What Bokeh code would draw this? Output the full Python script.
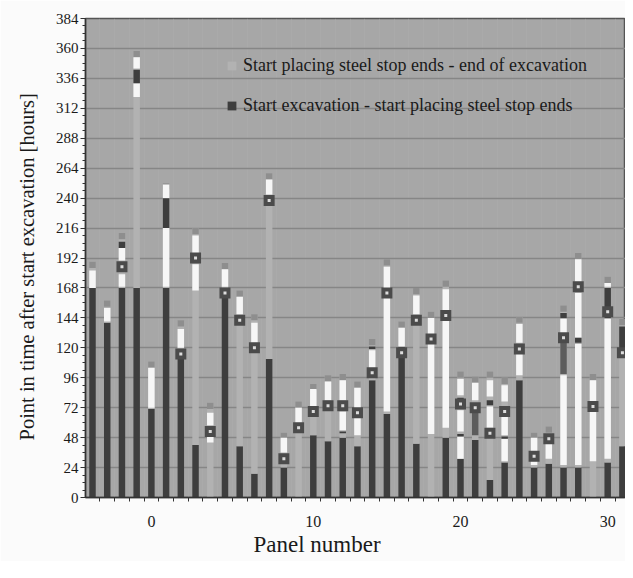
from bokeh.plotting import figure
from bokeh.models import FixedTicker, Legend, LegendItem, Range1d, Title
from bokeh.embed import file_html
from bokeh.resources import INLINE

# ---- data (hours after start of excavation) ----
panel = list(range(-4, 33))
start_steel = [168, 140, 168, 168, 71, 168, 112, 42, 0, 167, 41, 19, 111, 24, 0, 50, 45, 48, 41,
               94, 67, 121, 43, 0, 48, 31, 46, 14, 28, 94, 24, 27, 24, 24, 0, 28, 41]
end_excav = [189, 158, 212, 358, 109, 252, 142, 216, 76, 188, 166, 147, 260, 52, 77, 91, 98, 99, 93,
             127, 191, 141, 168, 149, 174, 101, 97, 101, 96, 145, 52, 57, 154, 196, 99, 177, 143]

white_panel = [-4, -3, -2, -2, -1, -1, 0, 1, 1, 2, 3, 3, 4, 4, 5, 6, 7, 8, 9, 10, 11, 11, 12, 13, 13,
               14, 14, 15, 16, 16, 17, 18, 19, 20, 21, 21, 21, 22, 23, 23, 24, 24, 24, 25, 25, 26, 26,
               27, 28, 28, 29, 29, 29, 30, 30, 31, 31]
white_lo = [168, 141, 169, 190, 321, 344, 72, 169, 240, 120, 166, 196, 44, 58, 169, 147, 124, 243, 36,
            60, 66, 73, 78, 54, 78, 50, 72, 104, 69, 168, 121, 147, 51, 56, 31, 53, 82, 78, 56, 81, 29,
            50, 77, 98, 124, 26, 36, 31, 26, 131, 26, 128, 173, 29, 77, 31, 169]
white_hi = [182, 152, 179, 200, 332, 353, 104, 216, 251, 135, 187, 210, 49, 68, 183, 161, 140, 255, 48,
            72, 68, 87, 93, 69, 94, 64, 88, 118, 160, 185, 136, 162, 144, 167, 49, 70, 95, 92, 73, 94,
            47, 65, 90, 115, 139, 29, 48, 44, 98, 143, 123, 164, 191, 69, 94, 143, 172]

dseg_panel = [-2, -1, 1, 13, 15, 21, 21, 23, 24, 28, 29, 31, 32]
dseg_lo = [200, 332, 216, 51.5, 119, 49, 76, 74, 47, 144, 124, 144, 119]
dseg_hi = [205, 343, 240, 53, 121, 51, 80, 78, 49, 148, 128, 168, 137]

mseg_panel = [22, 28]
mseg_lo = [50, 99]
mseg_hi = [68, 124]

mark_panel = [-2, 2, 3, 4, 5, 6, 7, 8, 9, 10, 11, 12, 13, 14, 15, 16, 17, 18, 19, 20, 21, 22, 23,
              24, 25, 26, 27, 28, 29, 30, 31, 32]
mark_time = [185, 115, 192, 53, 164, 142, 120, 238, 31, 56, 69, 73.5, 73.5, 68, 100, 164, 116, 142,
             127, 146, 75, 72, 51.5, 69, 119, 33, 47, 128, 169, 73, 149, 116]

y_ticks = list(range(0, 385, 24))
x_tick_pos = [0, 11, 21, 31]
x_tick_text = ["0", "10", "20", "30"]

# ---- style ----
BG = "#a7a7a7"
DARK = "#3e3e3e"
LIGHT = "#b2b2b2"
WHITE = "#f6f6f6"
CAP = "#8e8e8e"
SERIF = "Liberation Serif"

p = figure(frame_width=540, frame_height=479, min_border_left=85, min_border_right=0,
           min_border_top=18, min_border_bottom=64, output_backend="svg",
           toolbar_location=None, x_range=Range1d(-4.476, 32.21), y_range=Range1d(0, 384))
p.background_fill_color = BG
p.border_fill_color = "#fbfbfb"
p.outline_line_color = "#555555"
p.outline_line_width = 1.5

W = 0.44
r_dark = p.vbar(x=panel, bottom=0, top=start_steel, width=W, fill_color=DARK, line_color=None)
r_light = p.vbar(x=panel, bottom=start_steel, top=end_excav, width=W, fill_color=LIGHT, line_color=None)
p.vbar(x=panel, bottom=[t - 5 for t in end_excav], top=end_excav, width=W, fill_color=CAP, line_color=None)
p.vbar(x=white_panel, bottom=white_lo, top=white_hi, width=W, fill_color=WHITE, line_color=None)
p.vbar(x=dseg_panel, bottom=dseg_lo, top=dseg_hi, width=W, fill_color=DARK, line_color=None)
p.vbar(x=mseg_panel, bottom=mseg_lo, top=mseg_hi, width=W, fill_color="#5c5c5c", line_color=None)
p.scatter(x=mark_panel, y=mark_time, marker="square", size=11, fill_color="#4b4b4b", line_color=None)
p.scatter(x=mark_panel, y=mark_time, marker="square", size=3, fill_color="#dddddd", line_color=None)

# grid
p.xgrid.ticker = FixedTicker(ticks=[i + 0.5 for i in range(-5, 33)])
p.xgrid.grid_line_color = "#b0b0b0"
p.xgrid.grid_line_alpha = 0.45
p.ygrid.ticker = FixedTicker(ticks=y_ticks)
p.ygrid.grid_line_color = "#868686"
p.ygrid.grid_line_width = 1.6
p.grid.level = "image"

# axes
p.yaxis.ticker = FixedTicker(ticks=y_ticks, minor_ticks=list(range(0, 385, 6)))
p.xaxis.ticker = FixedTicker(ticks=x_tick_pos, minor_ticks=[i + 0.5 for i in range(-5, 33)])
p.xaxis.major_label_overrides = dict(zip(x_tick_pos, x_tick_text))
for ax in (p.xaxis[0], p.yaxis[0]):
    ax.axis_line_color = "#333333"
    ax.axis_line_width = 1.5
    ax.major_tick_line_color = "#333333"
    ax.minor_tick_line_color = "#333333"
    ax.major_tick_in = 0
    ax.minor_tick_in = 0
    ax.minor_tick_out = 3
    ax.major_label_text_font = SERIF
    ax.major_label_text_color = "#1a1a1a"
p.yaxis.major_tick_out = 5
p.yaxis.major_label_text_font_size = "15px"
p.yaxis.major_label_standoff = 2
p.xaxis.major_tick_out = 0
p.xaxis.minor_tick_out = 4
p.xaxis.major_label_text_font_size = "16px"
p.xaxis.major_label_standoff = 14

y_title = Title(text="Point in time after start excavation [hours]", align="left", offset=57,
                vertical_align="middle", standoff=27, text_font=SERIF, text_font_size="20.5px",
                text_font_style="normal", text_color="#1a1a1a")
p.add_layout(y_title, "left")
x_title = Title(text="Panel number", align="left", offset=168, standoff=0,
                text_font=SERIF, text_font_size="23px", text_font_style="normal",
                text_color="#1a1a1a")
p.add_layout(x_title, "below")

legend = Legend(items=[
    LegendItem(label="Start placing steel stop ends - end of excavation", renderers=[r_light]),
    LegendItem(label="Start excavation - start placing steel stop ends", renderers=[r_dark]),
], location=(141, 381))
legend.background_fill_alpha = 0
legend.border_line_alpha = 0
legend.padding = 0
legend.margin = 0
legend.glyph_width = 11
legend.glyph_height = 11
legend.label_height = 22
legend.spacing = 18
legend.label_standoff = 6
legend.label_text_font = SERIF
legend.label_text_font_size = "18px"
legend.label_text_color = "#1a1a1a"
p.add_layout(legend, "center")

open("out.html", "w").write(file_html(p, INLINE))
